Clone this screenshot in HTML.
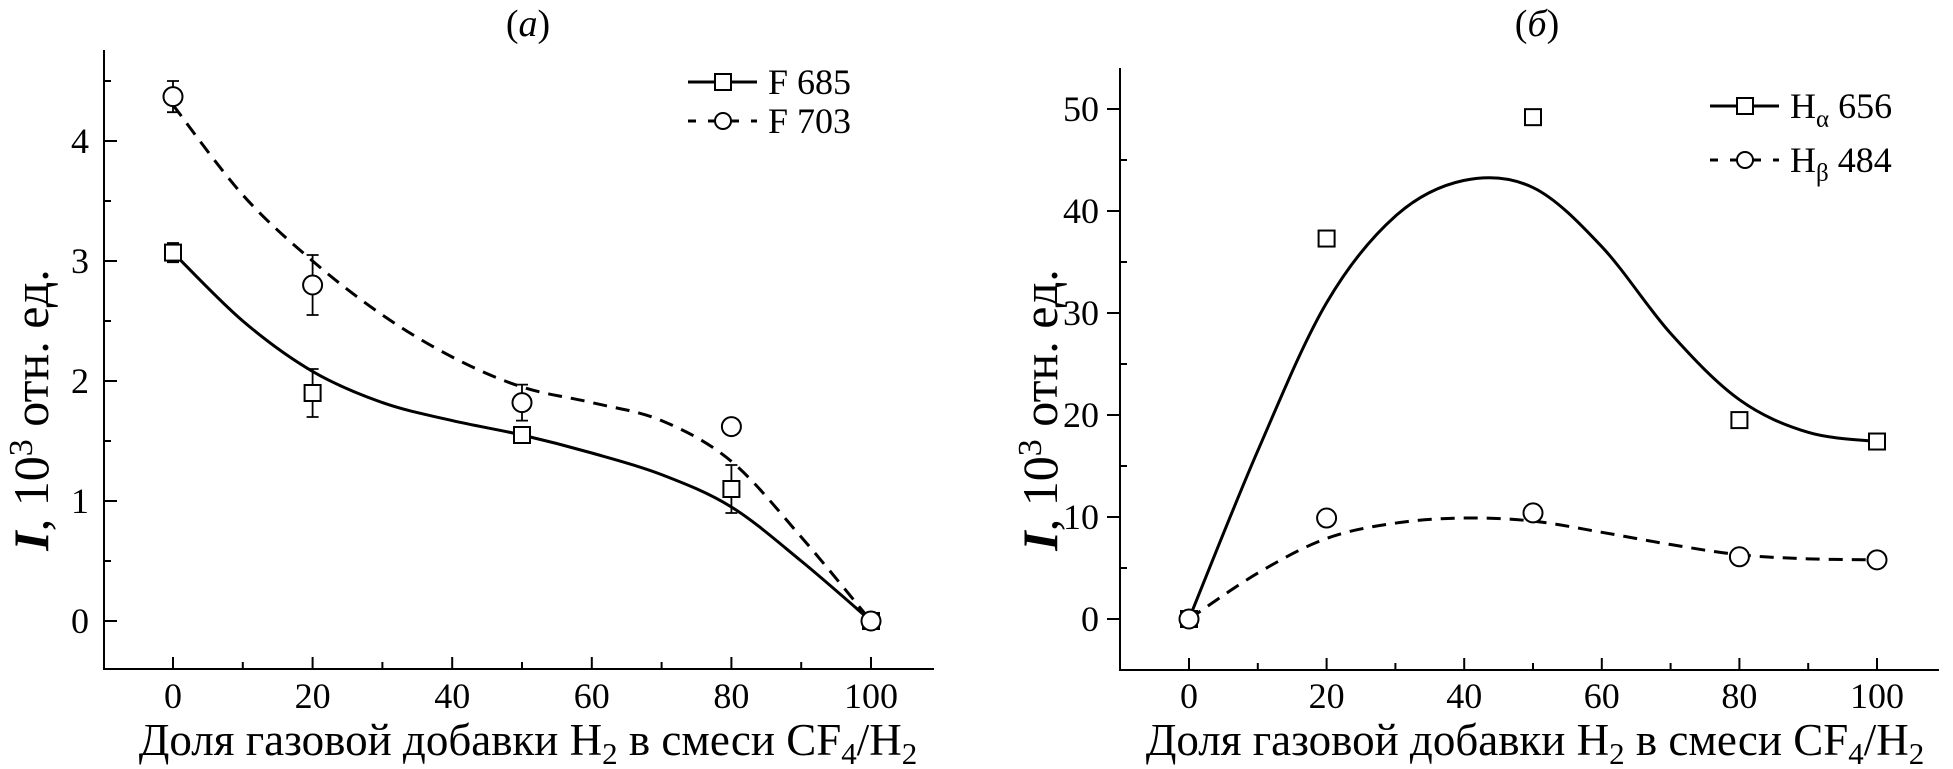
<!DOCTYPE html>
<html><head><meta charset="utf-8"><style>
html,body{margin:0;padding:0;background:#fff;}
svg{display:block;font-family:"Liberation Serif",serif;}
</style></head><body>
<svg id="chart" width="1953" height="769" viewBox="0 0 1953 769"></svg>
<script>
const xCats = [0, 20, 50, 80, 100];
const f685 = [3.07, 1.9, 1.55, 1.1, 0];
const f685Err = [0.08, 0.2, 0.05, 0.2, 0];
const f703 = [4.37, 2.8, 1.82, 1.62, 0];
const f703Err = [0.13, 0.25, 0.15, 0, 0];
const fitX = [0, 10, 20, 30, 40, 50, 60, 70, 80, 90, 100];
const f685Fit = [3.07, 2.5, 2.08, 1.82, 1.67, 1.55, 1.4, 1.22, 0.95, 0.5, 0];
const f703Fit = [4.3, 3.55, 3.0, 2.55, 2.2, 1.95, 1.82, 1.67, 1.33, 0.7, 0];
const ha656 = [0, 37.3, 49.2, 19.5, 17.4];
const hb484 = [0, 9.9, 10.4, 6.1, 5.8];
const fitX2 = [0, 10, 20, 30, 40, 50, 60, 70, 80, 90, 100];
const haFit = [0, 16.5, 31, 39.5, 43, 42.3, 36.5, 28, 21.5, 18.3, 17.4];
const hbFit = [0, 4.5, 7.9, 9.4, 9.9, 9.6, 8.5, 7.3, 6.3, 5.9, 5.8];
const xTicks = [0, 20, 40, 60, 80, 100];
const yTicksA = [0, 1, 2, 3, 4];
const yTicksB = [0, 10, 20, 30, 40, 50];

const NS = 'http://www.w3.org/2000/svg';
const svg = document.getElementById('chart');
function el(tag, attrs, parent) {
  const e = document.createElementNS(NS, tag);
  for (const k in attrs) e.setAttribute(k, attrs[k]);
  (parent || svg).appendChild(e);
  return e;
}
function smooth(pts) {
  let d = 'M' + pts[0][0] + ',' + pts[0][1];
  for (let i = 0; i < pts.length - 1; i++) {
    const p0 = pts[i - 1] || pts[i], p1 = pts[i], p2 = pts[i + 1], p3 = pts[i + 2] || p2;
    const c1 = [p1[0] + (p2[0] - p0[0]) / 6, p1[1] + (p2[1] - p0[1]) / 6];
    const c2 = [p2[0] - (p3[0] - p1[0]) / 6, p2[1] - (p3[1] - p1[1]) / 6];
    d += ' C' + c1 + ' ' + c2 + ' ' + p2;
  }
  return d;
}
function panel(cfg) {
  const g = el('g', {});
  
  
  const X = v => cfg.x0 + (v - 0) * cfg.kx;
  const Y = v => cfg.y0 - v * cfg.ky;
  const ax = el('path', {d: `M${cfg.axL},${cfg.axT} V${cfg.axB} H${cfg.axR}`, fill: 'none', stroke: '#000', 'stroke-width': 2}, g);
  
  
  for (let v = 0; v <= 100; v += 10) {
    const major = v % 20 === 0;
    el('line', {x1: X(v), x2: X(v), y1: cfg.axB, y2: cfg.axB - (major ? 12 : 7), stroke: '#000', 'stroke-width': 2}, g);
  }
  xTicks.forEach(v => {
    const t = el('text', {x: X(v), y: 708, 'font-size': 36, 'text-anchor': 'middle'}, g);
    t.textContent = v;
    
    
  });
  cfg.yTicks.forEach((v, i) => {
    const y = Y(v);
    if (cfg.outMajor) el('line', {x1: cfg.axL - 13, x2: cfg.axL, y1: y, y2: y, stroke: '#000', 'stroke-width': 2}, g);
    else el('line', {x1: cfg.axL, x2: cfg.axL + 13, y1: y, y2: y, stroke: '#000', 'stroke-width': 2}, g);
    const ym = Y(v + cfg.yStep / 2);
    if (ym > cfg.axT) el('line', {x1: cfg.axL, x2: cfg.axL + 7, y1: ym, y2: ym, stroke: '#000', 'stroke-width': 2}, g);
    const t = el('text', {x: cfg.labX, y: y + 12, 'font-size': 36, 'text-anchor': 'end'}, g);
    t.textContent = v;
    
    
  });
  const tt = el('text', {x: cfg.titleX, y: 36, 'font-size': 38, 'text-anchor': 'middle'}, g);
  tt.innerHTML = '(<tspan font-style="italic">' + cfg.title + '</tspan>)';
  
  
  const xl = el('text', {x: cfg.xLabX, y: 755, 'font-size': 45, 'text-anchor': 'middle'}, g);
  xl.innerHTML = 'Доля газовой добавки H<tspan font-size="31" dy="9">2</tspan><tspan dy="-9"> в смеси CF</tspan><tspan font-size="31" dy="9">4</tspan><tspan dy="-9">/H</tspan><tspan font-size="31" dy="9">2</tspan>';
  
  
  const yl = el('text', {x: 0, y: 0, 'font-size': 50, 'text-anchor': 'middle', transform: `translate(${cfg.yLabX},${cfg.yLabY}) rotate(-90)`}, g);
  yl.innerHTML = '<tspan font-weight="bold" font-style="italic">I</tspan>, 10<tspan font-size="34" dy="-16">3</tspan><tspan dy="16"> отн. ед.</tspan>';
  
  
  cfg.series.forEach(s => {
    const pts = s.fitX.map((x, i) => [X(x), Y(s.fit[i])]);
    const p = el('path', {d: smooth(pts), fill: 'none', stroke: '#000', 'stroke-width': 3, 'stroke-dasharray': s.dash ? '14,9' : 'none'}, g);
    
    
  });
  cfg.series.forEach(s => {
    xCats.forEach((x, i) => {
      const cx = X(x), cy = Y(s.vals[i]);
      if (s.err && s.err[i] > 0) {
        const e1 = Y(s.vals[i] + s.err[i]), e2 = Y(s.vals[i] - s.err[i]);
        const eb = el('path', {d: `M${cx},${e1} V${e2} M${cx-6},${e1} H${cx+6} M${cx-6},${e2} H${cx+6}`, stroke: '#000', 'stroke-width': 1.8, fill: 'none'}, g);
        
        
      }
      let m;
      if (s.marker === 'sq') m = el('rect', {x: cx - 8, y: cy - 8, width: 16, height: 16, fill: '#fff', stroke: '#000', 'stroke-width': 2}, g);
      else m = el('circle', {cx: cx, cy: cy, r: 9.5, fill: '#fff', stroke: '#000', 'stroke-width': 2}, g);
      
      
    });
  });
  cfg.legend.forEach((l, i) => {
    const lg = el('g', {}, g);
    
    
    const y = l.y;
    if (l.dash) {
      el('path', {d: `M${l.x},${y} h8 M${l.x+63},${y} h6 M${l.x+20},${y} h8 M${l.x+43},${y} h8`, stroke: '#000', 'stroke-width': 3}, lg);
      el('circle', {cx: l.x + 35, cy: y, r: 8, fill: '#fff', stroke: '#000', 'stroke-width': 2}, lg);
    } else {
      el('line', {x1: l.x, x2: l.x + 69, y1: y, y2: y, stroke: '#000', 'stroke-width': 3}, lg);
      el('rect', {x: l.x + 27, y: y - 8, width: 16, height: 16, fill: '#fff', stroke: '#000', 'stroke-width': 2}, lg);
    }
    const t = el('text', {x: l.x + 80, y: y + 12, 'font-size': 36}, lg);
    t.innerHTML = l.text;
  });
}
panel({
  name: 'panel-a', x0: 173, kx: 6.98, y0: 621, ky: 120, axL: 104, axR: 934, axT: 50, axB: 669,
  yTicks: yTicksA, yStep: 1, outMajor: false, labX: 89, titleX: 528, xLabX: 528, yLabX: 48, yLabY: 410, title: 'a',
  series: [
    {name: 'f685', vals: f685, err: f685Err, fitX: fitX, fit: f685Fit, marker: 'sq', dash: false},
    {name: 'f703', vals: f703, err: f703Err, fitX: fitX, fit: f703Fit, marker: 'ci', dash: true}
  ],
  legend: [{x: 688, y: 82, text: 'F 685', dash: false}, {x: 688, y: 121, text: 'F 703', dash: true}]
});
panel({
  name: 'panel-b', x0: 1189, kx: 6.88, y0: 619, ky: 10.2, axL: 1120, axR: 1939, axT: 68, axB: 670,
  yTicks: yTicksB, yStep: 10, outMajor: true, labX: 1099, titleX: 1537, xLabX: 1535, yLabX: 1057, yLabY: 410, title: 'б',
  series: [
    {name: 'h-alpha-656', vals: ha656, err: null, fitX: fitX2, fit: haFit, marker: 'sq', dash: false},
    {name: 'h-beta-484', vals: hb484, err: null, fitX: fitX2, fit: hbFit, marker: 'ci', dash: true}
  ],
  legend: [{x: 1710, y: 106, text: 'H<tspan font-size="25" dy="9">α</tspan><tspan dy="-9"> 656</tspan>', dash: false},
           {x: 1710, y: 160, text: 'H<tspan font-size="25" dy="9">β</tspan><tspan dy="-9"> 484</tspan>', dash: true}]
});
</script>
</body></html>
